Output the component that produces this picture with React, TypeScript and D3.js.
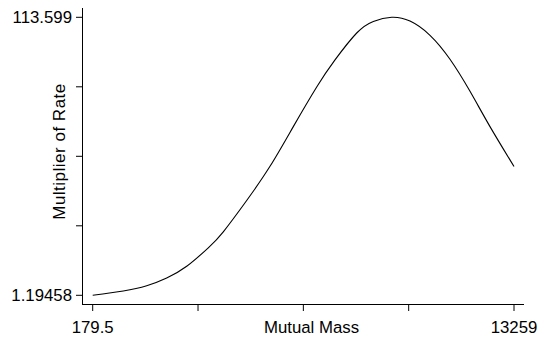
import React from "react";
import * as d3 from "d3";

const xValues = [179.5, 1129.5, 1856, 2477, 3098, 3768, 4234, 4960, 5684, 6407.5, 7134, 7702, 8376, 8891, 9462, 10030, 10651, 11272, 11893, 12514, 13259];
const yValues = [1.19458, 2.93, 5.04, 8.19, 12.92, 20.4, 26.87, 39.53, 53.35, 69.4, 85.42, 96.37, 107.25, 111.94, 113.599, 112.06, 106.32, 96.62, 83.68, 69.4, 53.27];
const xDomain = [179.5, 13259];
const yDomain = [1.19458, 113.599];
const xTickLabels = ["179.5", "", "", "", "13259"];
const yTickLabels = ["1.19458", "", "", "", "113.599"];
const xTitle = "Mutual Mass";
const yTitle = "Multiplier of Rate";

export default function App() {
  const W = 541, H = 338;
  const x = d3.scaleLinear().domain(xDomain).range([92.7, 514]);
  const y = d3.scaleLinear().domain(yDomain).range([295.3, 17.3]);
  const xTicks = xTickLabels.map((_, i) => xDomain[0] + (i * (xDomain[1] - xDomain[0])) / 4);
  const yTicks = yTickLabels.map((_, i) => yDomain[0] + (i * (yDomain[1] - yDomain[0])) / 4);
  const pts = xValues.map((v, i) => [v, yValues[i]] as [number, number]);
  const line = d3.line<[number, number]>().x(d => x(d[0])).y(d => y(d[1])).curve(d3.curveNatural);
  const font = "'Liberation Sans', Arial, sans-serif";
  const fs = 16.8;
  return (
    <svg width={W} height={H} style={{ position: "absolute", left: 0, top: 0, background: "#fff" }} fontFamily={font}>
      <rect width={W} height={H} fill="#fff" />
      <line x1={82.5} x2={82.5} y1={8} y2={304.5} stroke="#000" strokeWidth={1} />
      <line x1={82} x2={524} y1={304.5} y2={304.5} stroke="#000" strokeWidth={1} />
      {yTicks.map((t, i) => (
        <g key={"y" + i}>
          <line x1={76} x2={82.5} y1={y(t)} y2={y(t)} stroke="#000" />
          {yTickLabels[i] && (
            <text x={72} y={y(t)} dy="0.36em" textAnchor="end" fontSize={fs} fill="#000">{yTickLabels[i]}</text>
          )}
        </g>
      ))}
      {xTicks.map((t, i) => (
        <g key={"x" + i}>
          <line x1={x(t)} x2={x(t)} y1={304.5} y2={311} stroke="#000" />
          {xTickLabels[i] && (
            <text x={x(t)} y={332.5} textAnchor="middle" fontSize={fs} fill="#000">{xTickLabels[i]}</text>
          )}
        </g>
      ))}
      <text x={311.5} y={333} textAnchor="middle" fontSize={fs} fill="#000">{xTitle}</text>
      <text transform={`translate(65,${151.5}) rotate(-90)`} textAnchor="middle" fontSize={17} letterSpacing={0.5} fill="#000">{yTitle}</text>
      <path d={line(pts) || ""} fill="none" stroke="#000" strokeWidth={1.1} />
    </svg>
  );
}
